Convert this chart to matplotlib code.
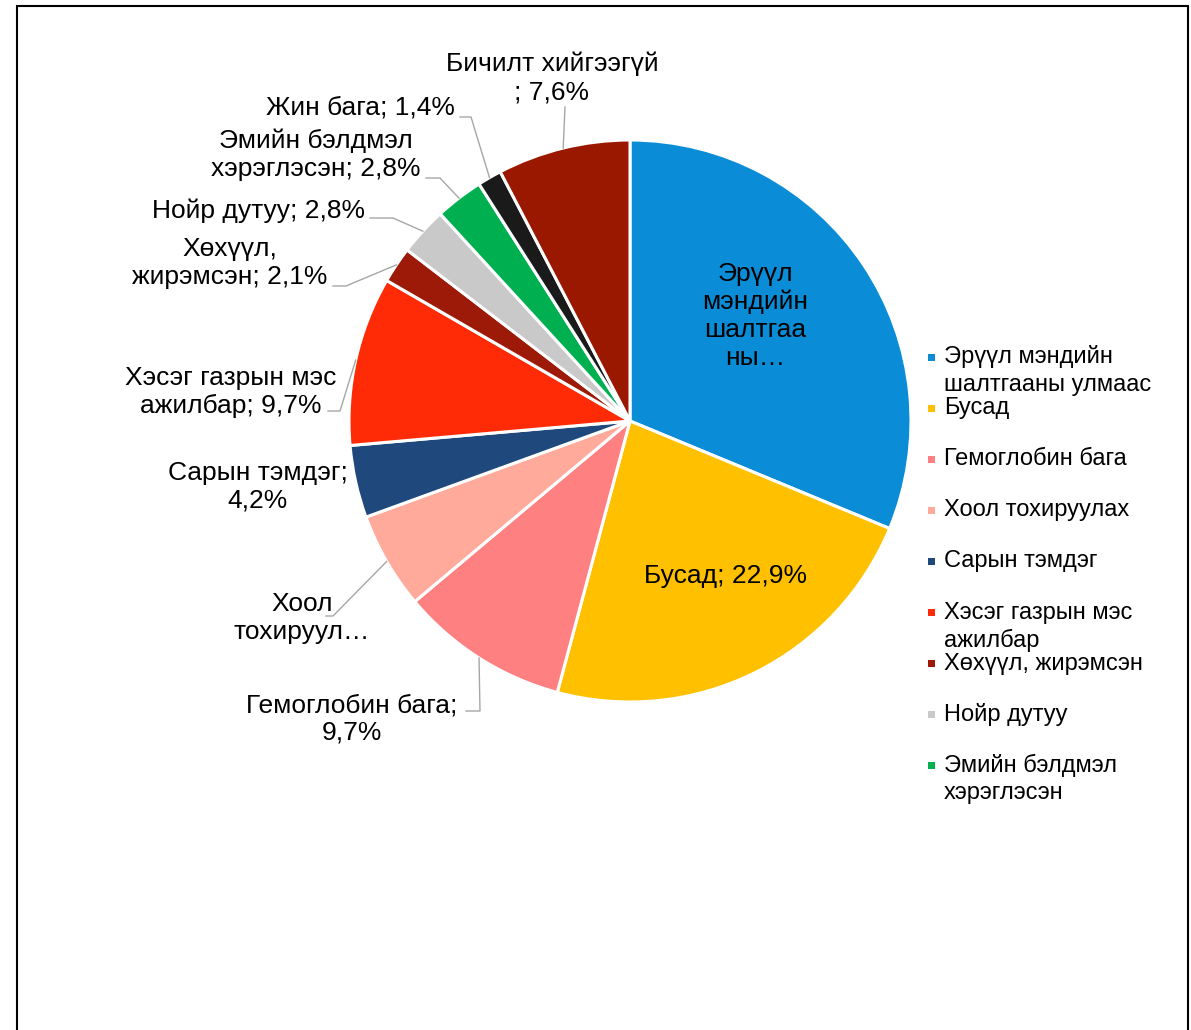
import textwrap
import matplotlib
matplotlib.use('Agg')
import matplotlib.pyplot as plt
from matplotlib.patches import Rectangle
import numpy as np

# data (counts, total 144 -> percentages shown on the chart)
categories = ['Эрүүл мэндийн шалтгааны улмаас', 'Бусад', 'Гемоглобин бага',
              'Хоол тохируулах', 'Сарын тэмдэг', 'Хэсэг газрын мэс ажилбар',
              'Хөхүүл, жирэмсэн', 'Нойр дутуу', 'Эмийн бэлдмэл хэрэглэсэн',
              'Жин бага', 'Бичилт хийгээгүй']
counts = [45, 33, 14, 8, 6, 14, 3, 4, 4, 2, 11]
colors = ['#0A8CD6', '#FFC000', '#FF8080', '#FFAA9A', '#1F497D', '#FF2B06',
          '#9C1A07', '#C9C9C9', '#00B050', '#1A1A1A', '#9A1800']
# data label text as Excel wrapped / truncated it
label_text = ['Эрүүл\nмэндийн\nшалтгаа\nны…',
              'Бусад; {p}',
              'Гемоглобин бага;\n{p}',
              'Хоол\nтохируул…',
              'Сарын тэмдэг;\n{p}',
              'Хэсэг газрын мэс\nажилбар; {p}',
              'Хөхүүл,\nжирэмсэн; {p}',
              'Нойр дутуу; {p}',
              'Эмийн бэлдмэл\nхэрэглэсэн; {p}',
              'Жин бага; {p}',
              'Бичилт хийгээгүй\n; {p}']
legend_count = 9  # legend got cut off after 9 entries

# layout, in image pixels (y down)
W, H = 1191, 1030
cx, cy, r = 630, 421, 281
label_pos = [(755, 316), (725, 576), (352, 719), (302, 618), (258, 487),
             (231, 392), (230, 263), (258, 211), (316, 155), (360, 108),
             (552, 78)]
leaders = [None, None,
           [(480, 711), (466, 711)],
           [(333, 616), (326, 616)],
           None,
           [(340, 411), (328, 411)],
           [(346, 286), (333, 286)],
           [(393, 218), (370, 218)],
           [(440, 178), (426, 178)],
           [(471, 117), (460, 117)],
           [(565, 107)]]
FONT = 'Liberation Sans'


def Y(y):
    return H - y


fig = plt.figure(figsize=(W / 100, H / 100), dpi=100)
ax = fig.add_axes([0, 0, 1, 1])
wedges, _ = ax.pie(counts, colors=colors, startangle=90, counterclock=False,
                   center=(cx, Y(cy)), radius=r,
                   wedgeprops=dict(edgecolor='white', linewidth=2.2))
ax.set_xlim(0, W)
ax.set_ylim(0, H)
ax.set_aspect('equal')
ax.axis('off')

total = sum(counts)
for i, w in enumerate(wedges):
    p = 100.0 * counts[i] / total
    txt = label_text[i].format(p=f'{p:.1f}'.replace('.', ',') + '%')
    x, y = label_pos[i]
    ax.text(x, Y(y), txt, ha='center', va='center', fontsize=19,
            family=FONT, linespacing=1.2)
    if leaders[i]:
        mid = np.radians((w.theta1 + w.theta2) / 2)
        pts = [(cx + r * np.cos(mid), Y(cy) + r * np.sin(mid))]
        pts += [(px, Y(py)) for px, py in leaders[i]]
        xs, ys = zip(*pts)
        ax.plot(xs, ys, color='#A6A6A6', lw=1.0)

# legend, drawn like Excel's (fixed step, wrapped text overflowing)
for i in range(legend_count):
    ey = 357 + i * 51.1
    ax.add_patch(Rectangle((928, Y(ey) - 3.5), 7, 7, color=colors[i], lw=0))
    lines = textwrap.fill(categories[i], 16).split('\n')
    for k, ln in enumerate(lines):
        ax.text(944, Y(ey + k * 27.5), ln, ha='left', va='center',
                fontsize=17, family=FONT)

# chart frame (bottom edge is off the picture)
ax.add_patch(Rectangle((17, Y(1050)), 1171, 1050 - 6, fill=False,
                       ec='black', lw=1.5, clip_on=False))

fig.savefig('out.png', dpi=100)
